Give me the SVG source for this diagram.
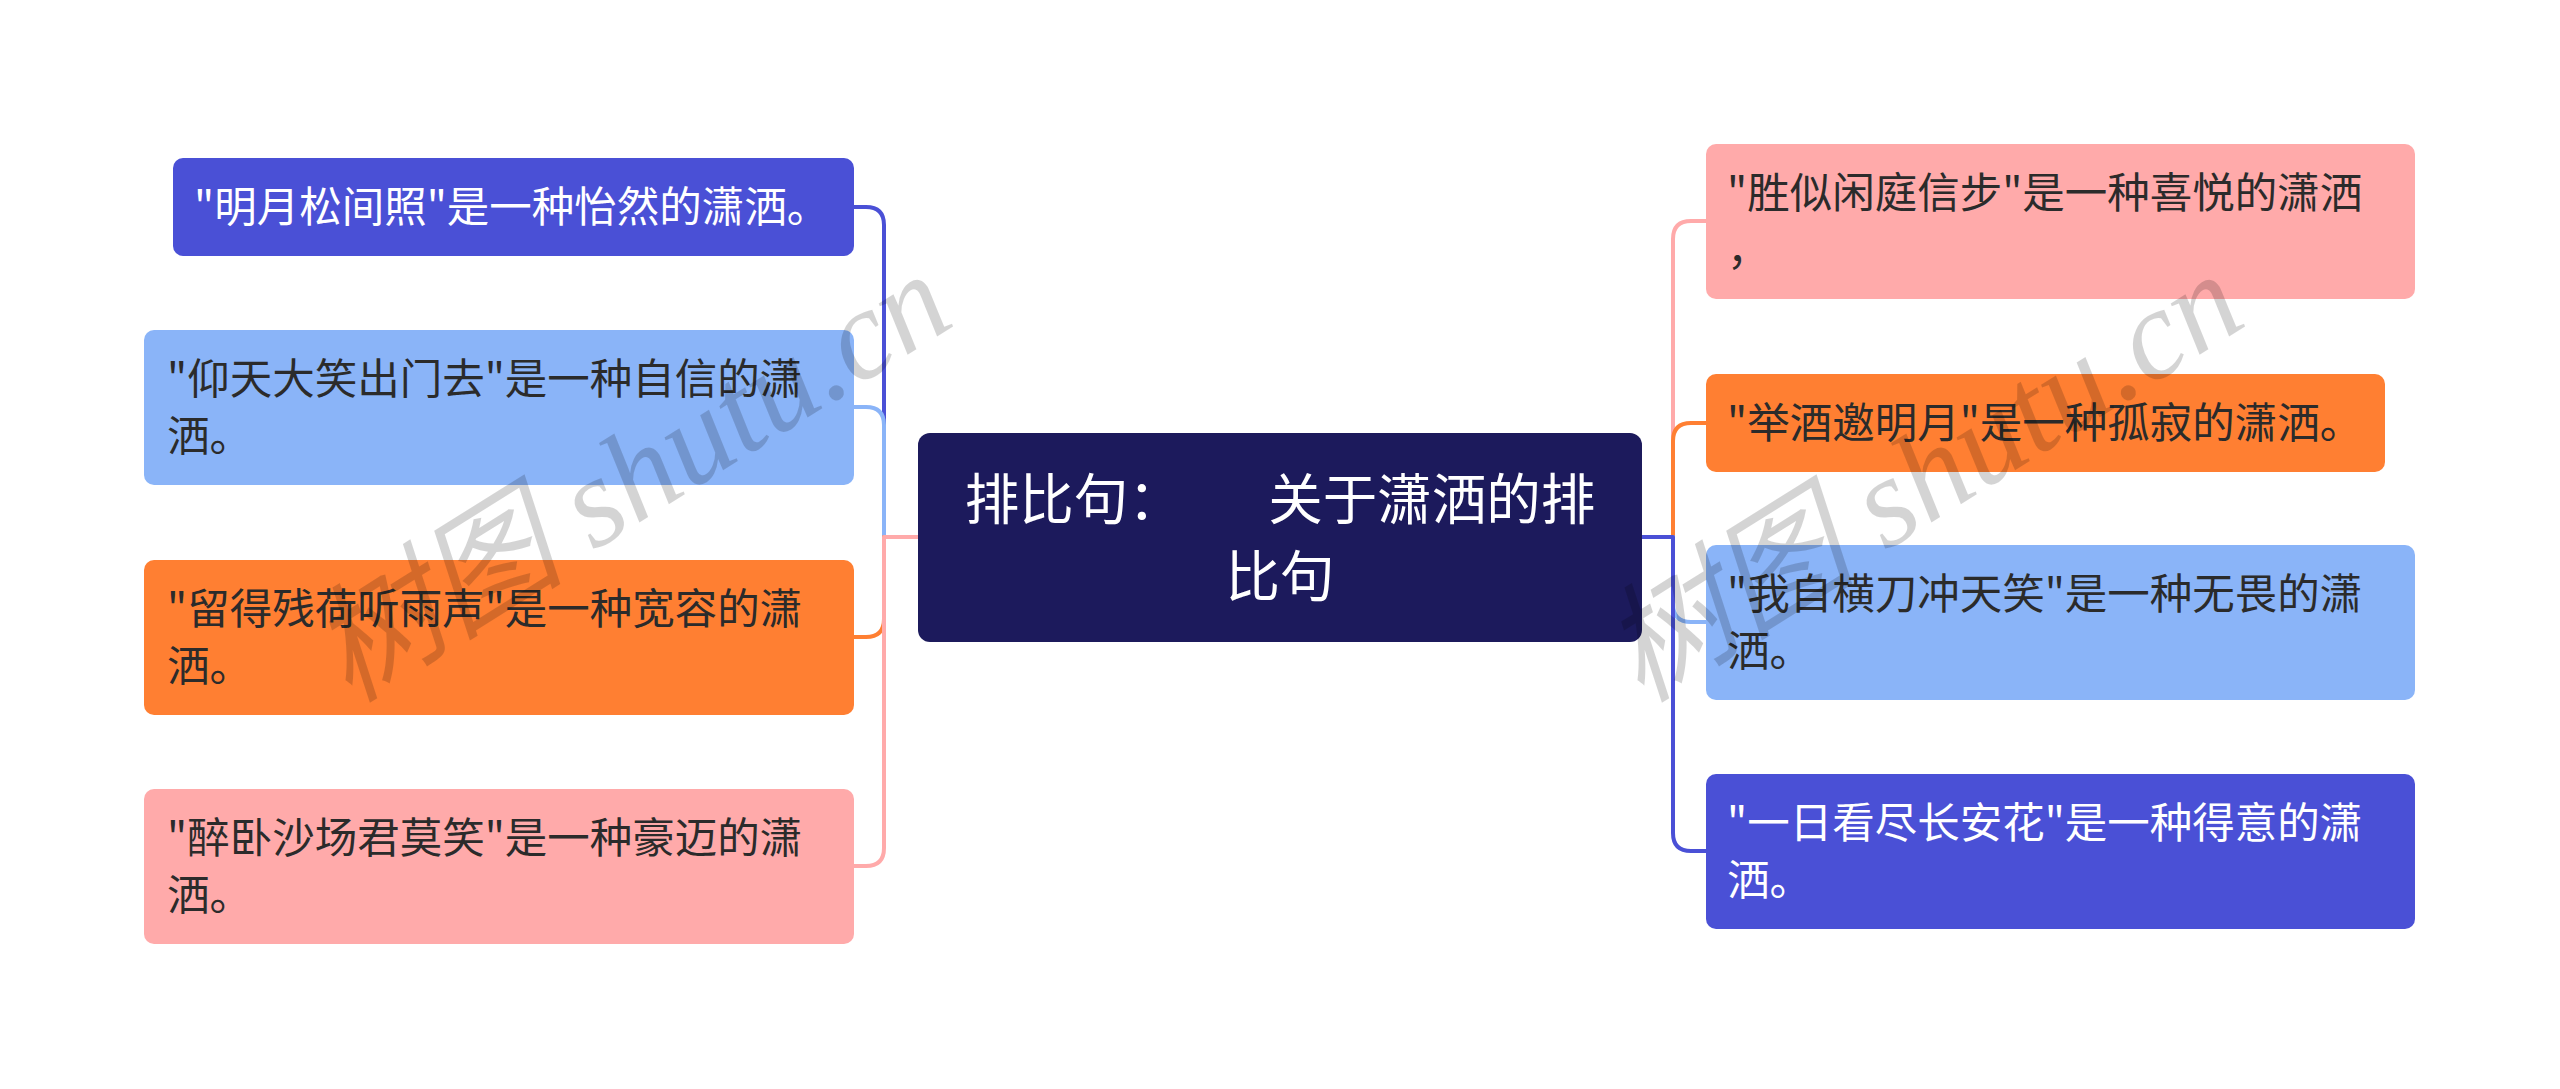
<svg xmlns="http://www.w3.org/2000/svg" width="2560" height="1089" viewBox="0 0 2560 1089">
<style>
.t{font-family:"Noto Sans CJK SC","Noto Sans",sans-serif;font-size:42.5px}
.dk{fill:#2b2b2b}
.wt{fill:#ffffff}
.c{font-family:"Noto Sans CJK SC","Noto Sans",sans-serif;font-size:54.5px;fill:#ffffff;text-anchor:middle}
.ln{fill:none;stroke-width:4;stroke-linecap:round;stroke-linejoin:round}
.wm{font-family:"Liberation Serif","Noto Sans CJK SC",serif;font-style:italic;font-size:128px;fill:#000;fill-opacity:0.17}
</style>
<rect width="2560" height="1089" fill="#ffffff"/>
<g id="connectors">
<path class="ln" stroke="#4a50d6" d="M918 537 H884 V225 Q884 207 866 207 H854"/>
<path class="ln" stroke="#8ab4f8" d="M918 537 H884 V425 Q884 407 866 407 H854"/>
<path class="ln" stroke="#ff7f32" d="M918 537 H884 V619 Q884 637 866 637 H854"/>
<path class="ln" stroke="#ffaaaa" d="M918 537 H884 V848 Q884 866 866 866 H854"/>
<path class="ln" stroke="#ffaaaa" d="M1642 537 H1673 V239 Q1673 221 1691 221 H1706"/>
<path class="ln" stroke="#ff7f32" d="M1642 537 H1673 V441 Q1673 423 1691 423 H1706"/>
<path class="ln" stroke="#8ab4f8" d="M1642 537 H1673 V604 Q1673 622 1691 622 H1706"/>
<path class="ln" stroke="#4a50d6" d="M1642 537 H1673 V833 Q1673 851 1691 851 H1706"/>
</g>
<g id="center">
<rect x="918" y="433" width="724" height="209" rx="12" fill="#1c1a5c"/>
<text class="c" xml:space="preserve"><tspan x="1280" y="519">排比句：       关于潇洒的排</tspan><tspan x="1280" y="596">比句</tspan></text>
</g>
<g id="node-l1">
<rect x="173" y="158" width="681" height="98" rx="10" fill="#4a50d6"/>
<text class="t wt" x="194" y="222">"明月松间照"是一种怡然的潇洒。</text>
</g>
<g id="node-l2">
<rect x="144" y="330" width="710" height="155" rx="10" fill="#8ab4f8"/>
<text class="t dk"><tspan x="167" y="394">"仰天大笑出门去"是一种自信的潇</tspan><tspan x="167" y="451">洒。</tspan></text>
</g>
<g id="node-l3">
<rect x="144" y="560" width="710" height="155" rx="10" fill="#ff7f32"/>
<text class="t dk"><tspan x="167" y="624">"留得残荷听雨声"是一种宽容的潇</tspan><tspan x="167" y="681">洒。</tspan></text>
</g>
<g id="node-l4">
<rect x="144" y="789" width="710" height="155" rx="10" fill="#ffaaaa"/>
<text class="t dk"><tspan x="167" y="853">"醉卧沙场君莫笑"是一种豪迈的潇</tspan><tspan x="167" y="910">洒。</tspan></text>
</g>
<g id="node-r1">
<rect x="1706" y="144" width="709" height="155" rx="10" fill="#ffaaaa"/>
<text class="t dk"><tspan x="1727" y="208">"胜似闲庭信步"是一种喜悦的潇洒</tspan><tspan x="1727" y="265">，</tspan></text>
</g>
<g id="node-r2">
<rect x="1706" y="374" width="679" height="98" rx="10" fill="#ff7f32"/>
<text class="t dk" x="1727" y="438">"举酒邀明月"是一种孤寂的潇洒。</text>
</g>
<g id="node-r3">
<rect x="1706" y="545" width="709" height="155" rx="10" fill="#8ab4f8"/>
<text class="t dk"><tspan x="1727" y="609">"我自横刀冲天笑"是一种无畏的潇</tspan><tspan x="1727" y="666">洒。</tspan></text>
</g>
<g id="node-r4">
<rect x="1706" y="774" width="709" height="155" rx="10" fill="#4a50d6"/>
<text class="t wt"><tspan x="1727" y="838">"一日看尽长安花"是一种得意的潇</tspan><tspan x="1727" y="895">洒。</tspan></text>
</g>
<text class="wm" transform="translate(349 704) rotate(-32)">树图 shutu.cn</text>
<text class="wm" transform="translate(1641 704) rotate(-32)">树图 shutu.cn</text>
</svg>
